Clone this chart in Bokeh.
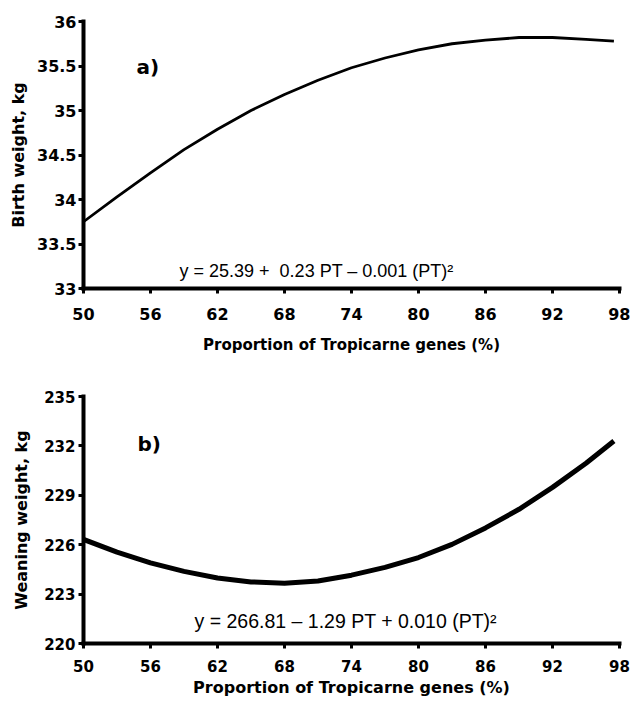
from bokeh.plotting import figure
from bokeh.layouts import column
from bokeh.models import Range1d, FixedTicker, Label
from bokeh.embed import file_html
from bokeh.resources import INLINE

# ---- data ----
pt = [50, 53, 56, 59, 62, 65, 68, 71, 74, 77, 80, 83, 86, 89, 92, 95, 97.5]
birth_weight = [33.75, 34.03, 34.30, 34.56, 34.79, 35.00, 35.18, 35.34, 35.48,
                35.59, 35.68, 35.75, 35.79, 35.82, 35.82, 35.80, 35.78]
weaning_weight = [226.32, 225.55, 224.90, 224.38, 223.98, 223.74, 223.66, 223.80,
                  224.15, 224.62, 225.22, 226.02, 227.02, 228.15, 229.48, 230.95, 232.30]

x_ticks = [50, 56, 62, 68, 74, 80, 86, 92, 98]
x_tick_labels = ["50", "56", "62", "68", "74", "80", "86", "92", "98"]
bw_ticks = [33, 33.5, 34, 34.5, 35, 35.5, 36]
bw_tick_labels = ["33", "33.5", "34", "34.5", "35", "35.5", "36"]
ww_ticks = [220, 223, 226, 229, 232, 235]
ww_tick_labels = ["220", "223", "226", "229", "232", "235"]

x_label = "Proportion of Tropicarne genes (%)"
bw_label = "Birth weight, kg"
ww_label = "Weaning weight, kg"
eq_a = "y = 25.39 +\u00a0 0.23 PT \u2013 0.001 (PT)\u00b2"
eq_b = "y = 266.81 \u2013 1.29 PT + 0.010 (PT)\u00b2"

BOLD = "DejaVu Sans"


def style(p, xt, xl, yt, yl, tick_size, xlab_size, x_std, xlab_std, y_std, ylab_std):
    p.grid.visible = False
    p.outline_line_color = None
    p.background_fill_color = "white"
    p.border_fill_color = "white"
    for ax in (p.xaxis[0], p.yaxis[0]):
        ax.axis_line_width = 4
        ax.axis_line_color = "black"
        ax.axis_line_cap = "square"
        ax.major_tick_line_width = 3
        ax.major_tick_line_color = "black"
        ax.major_tick_out = 5
        ax.major_tick_in = 0
        ax.minor_tick_line_color = None
        ax.major_label_text_font = BOLD
        ax.major_label_text_font_style = "bold"
        ax.major_label_text_font_size = tick_size
        ax.major_label_text_color = "black"
        ax.axis_label_text_font = BOLD
        ax.axis_label_text_font_style = "bold"
        ax.axis_label_text_color = "black"
    p.xaxis[0].ticker = FixedTicker(ticks=xt)
    p.xaxis[0].major_label_overrides = {t: s for t, s in zip(xt, xl)}
    p.yaxis[0].ticker = FixedTicker(ticks=yt)
    p.yaxis[0].major_label_overrides = {t: s for t, s in zip(yt, yl)}
    p.xaxis[0].major_label_standoff = x_std
    p.xaxis[0].axis_label_standoff = xlab_std
    p.xaxis[0].axis_label_text_font_size = xlab_size
    p.yaxis[0].major_label_standoff = y_std
    p.yaxis[0].axis_label_standoff = ylab_std
    p.yaxis[0].axis_label_text_font_size = "16px"


p1 = figure(width=630, height=376, x_range=Range1d(50, 98), y_range=Range1d(33, 36),
            output_backend="svg", toolbar_location=None,
            min_border_left=83, min_border_right=11, min_border_top=21, min_border_bottom=88,
            x_axis_label=x_label, y_axis_label=bw_label)
style(p1, x_ticks, x_tick_labels, bw_ticks, bw_tick_labels, "16px", "15px", 14, 13, 2, 6)
p1.line(pt, birth_weight, line_color="black", line_width=2.8)
p1.add_layout(Label(x=54.74, y=35.494, text="a)", text_font=BOLD, text_font_style="bold",
                    text_font_size="20px", text_baseline="alphabetic", text_color="black"))
p1.add_layout(Label(x=58.6, y=33.20, text=eq_a, text_font="Liberation Sans",
                    text_font_size="18px", text_baseline="alphabetic", text_color="black"))

p2 = figure(width=630, height=323, x_range=Range1d(50, 98), y_range=Range1d(220, 235),
            output_backend="svg", toolbar_location=None,
            min_border_left=83, min_border_right=11, min_border_top=20, min_border_bottom=56,
            x_axis_label=x_label, y_axis_label=ww_label)
style(p2, x_ticks, x_tick_labels, ww_ticks, ww_tick_labels, "15px", "16px", 11, 3, 3, 10)
p2.line(pt, weaning_weight, line_color="black", line_width=5)
p2.add_layout(Label(x=54.83, y=232.09, text="b)", text_font=BOLD, text_font_style="bold",
                    text_font_size="20px", text_baseline="alphabetic", text_color="black"))
p2.add_layout(Label(x=59.94, y=221.34, text=eq_b, text_font="Liberation Sans",
                    text_font_size="19.5px", text_baseline="alphabetic", text_color="black"))

layout = column(p1, p2)
open("out.html", "w").write(file_html(layout, INLINE))
